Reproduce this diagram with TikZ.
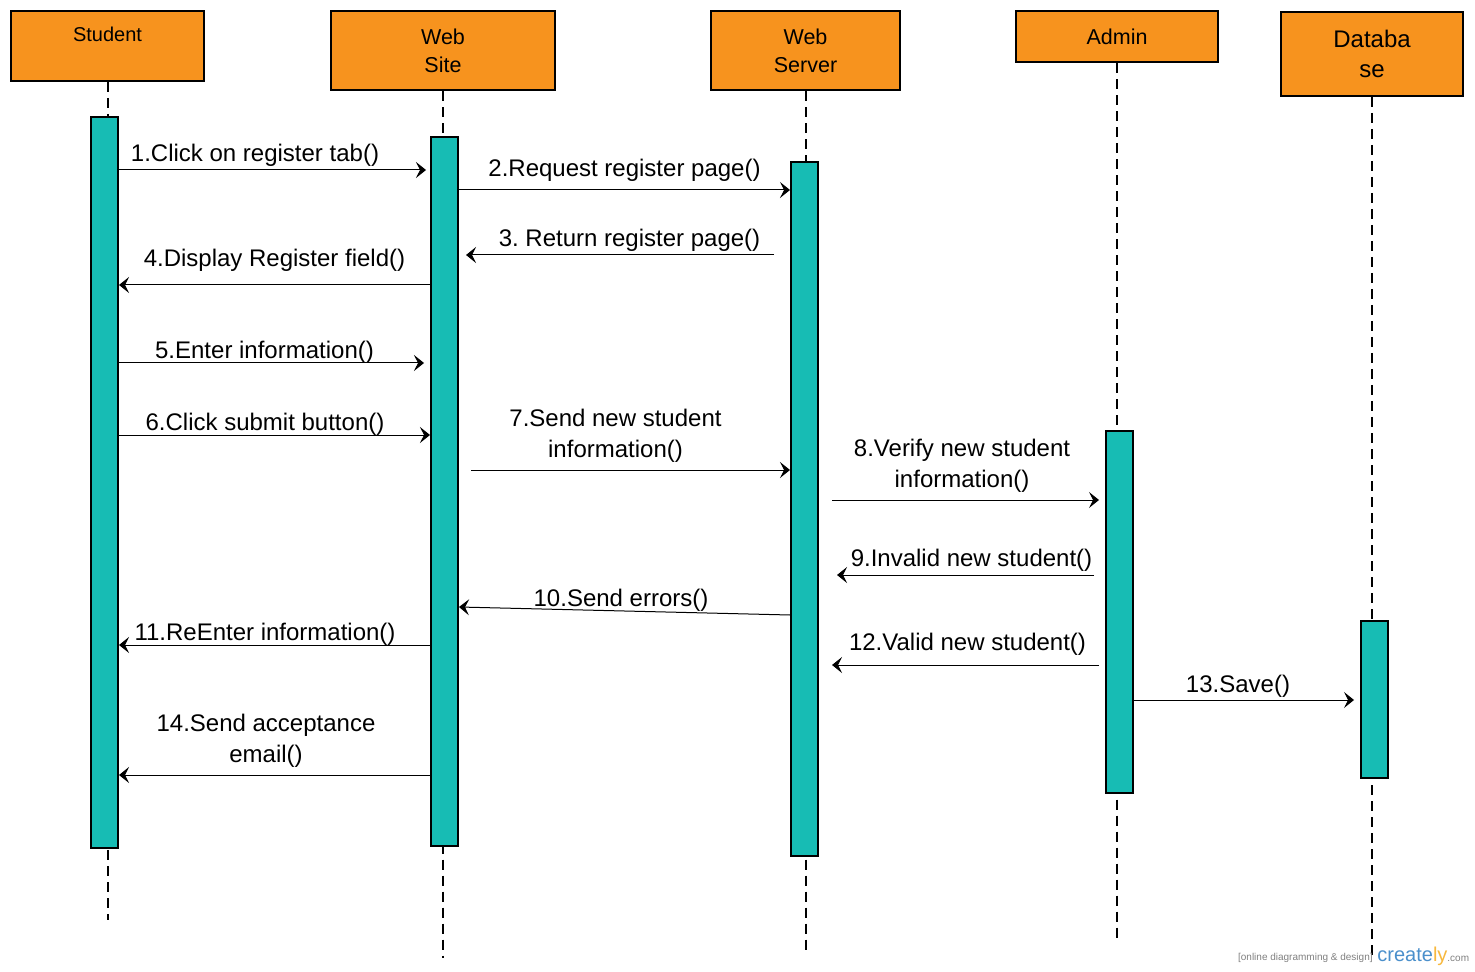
\documentclass[tikz,border=0pt]{standalone}
\usepackage{fontspec}
\setmainfont{Liberation Sans}
\usetikzlibrary{arrows.meta,positioning}
\definecolor{headorange}{HTML}{F7931E}
\definecolor{barteal}{HTML}{17BCB4}
\definecolor{crblue}{HTML}{4A8FCB}
\definecolor{cryellow}{HTML}{F7B83D}
\frenchspacing

\begin{document}
\begin{tikzpicture}[x=0.5pt,y=-0.5pt,
  head/.style={draw=black,line width=1pt,fill=headorange,align=center,
    font=\fontsize{10.75}{14}\selectfont,inner sep=0pt},
  bar/.style={draw=black,line width=1pt,fill=barteal,minimum width=13.5pt,inner sep=0pt},
  lifeline/.style={line width=1pt,dash pattern=on 5pt off 3pt},
  msg/.style={line width=0.5pt,-{Stealth[length=5pt,width=8pt,inset=2pt]}},
  msglabel/.style={font=\fontsize{12}{15.5}\selectfont,align=center,inner sep=2pt}]
\useasboundingbox (0,0) rectangle (1475,972);

% objects
\node[head,minimum width=96.5pt,minimum height=35pt,font=\fontsize{10}{12}\selectfont,
  text height=6.5pt,text depth=11pt] (student) at (107.5,46) {Student};
\node[head,minimum width=112pt,minimum height=39.5pt] (website) at (443,51) {Web\\Site};
\node[head,minimum width=94.5pt,minimum height=39.5pt] (webserver) at (805.5,51) {Web\\Server};
\node[head,minimum width=101pt,minimum height=25.5pt] (admin) at (1117,37) {Admin};
\node[head,minimum width=91pt,minimum height=42pt,font=\fontsize{12}{15}\selectfont] (database) at (1372,54) {Databa\\se};

% lifelines
\coordinate (student end) at (107.5,920);
\coordinate (website end) at (443,958);
\coordinate (webserver end) at (805.5,950);
\coordinate (admin end) at (1117,940);
\coordinate (database end) at (1372,955);
\foreach \obj in {student,website,webserver,admin,database}
  \draw[lifeline] (\obj.south) -- (\obj\space end);

% activations
\node[bar,minimum height=365.5pt] (studentbar) at (104.5,482.5) {};
\node[bar,minimum height=354.5pt] (websitebar) at (444.5,491.5) {};
\node[bar,minimum height=347pt] (webserverbar) at (804.5,509) {};
\node[bar,minimum height=181pt] (adminbar) at (1119.5,612) {};
\node[bar,minimum height=78.5pt] (databasebar) at (1374.5,699.5) {};

% messages
\draw[msg,shorten >=2pt] (studentbar.east |- 0,170) -- node[msglabel,above=-0.5pt,xshift=-9.75pt] (m1) {1.Click on register tab()} (websitebar.west |- 0,170);
\draw[msg] (websitebar.east |- 0,190) -- node[msglabel,above=2pt] (m2) {2.Request register page()} (webserverbar.west |- 0,190);
\draw[msg,shorten <=8pt,shorten >=3.5pt] (webserverbar.west |- 0,255) -- node[msglabel,above=-0.5pt,xshift=2.5pt] (m3) {3. Return register page()} (websitebar.east |- 0,255);
\draw[msg] (websitebar.west |- 0,285) -- node[msglabel,above=4.5pt] (m4) {4.Display Register field()} (studentbar.east |- 0,285);
\draw[msg,shorten >=3pt] (studentbar.east |- 0,363) -- node[msglabel,above=-2.5pt,xshift=-5pt] (m5) {5.Enter information()} (websitebar.west |- 0,363);
\draw[msg] (studentbar.east |- 0,435) -- node[msglabel,above=-2.5pt,xshift=-4.75pt] (m6) {6.Click submit button()} (websitebar.west |- 0,435);
\draw[msg,shorten <=6pt] (websitebar.east |- 0,470) -- node[msglabel,above=1.5pt,xshift=-4.5pt] (m7) {7.Send new student\\information()} (webserverbar.west |- 0,470);
\draw[msg,shorten <=6.5pt,shorten >=3pt] (webserverbar.east |- 0,500) -- node[msglabel,above=1.5pt] (m8) {8.Verify new student\\information()} (adminbar.west |- 0,500);
\draw[msg,shorten <=5.5pt,shorten >=9pt] (adminbar.west |- 0,575) -- node[msglabel,above=-0.5pt,xshift=4.75pt] (m9) {9.Invalid new student()} (webserverbar.east |- 0,575);
\draw[msg] (webserverbar.west |- 0,615) -- node[msglabel,above=-2.5pt,xshift=-1.75pt] (m10) {10.Send errors()} (websitebar.east |- 0,607);
\draw[msg] (websitebar.west |- 0,645) -- node[msglabel,above=-2.5pt,xshift=-4.75pt] (m11) {11.ReEnter information()} (studentbar.east |- 0,645);
\draw[msg,shorten <=3pt,shorten >=6.5pt] (adminbar.west |- 0,665) -- node[msglabel,above=2.5pt,xshift=2.75pt] (m12) {12.Valid new student()} (webserverbar.east |- 0,665);
\draw[msg,shorten >=3pt] (adminbar.east |- 0,700) -- node[msglabel,above=-1pt,xshift=-4.5pt] (m13) {13.Save()} (databasebar.west |- 0,700);
\draw[msg] (websitebar.west |- 0,775) -- node[msglabel,above=1.5pt,xshift=-4.25pt] (m14) {14.Send acceptance\\email()} (studentbar.east |- 0,775);

% watermark
\node[anchor=base east,text=gray,inner sep=0pt,font=\fontsize{5}{6}\selectfont] (tag) at (1373,960) {[online diagramming \& design]};
\node[anchor=base west,inner sep=0pt,font=\fontsize{10}{12}\selectfont] (logo) at (1377,961)
  {\textcolor{crblue}{create}\textcolor{cryellow}{ly}{\fontsize{5}{6}\selectfont\textcolor{gray}{.com}}};
\end{tikzpicture}
\end{document}
